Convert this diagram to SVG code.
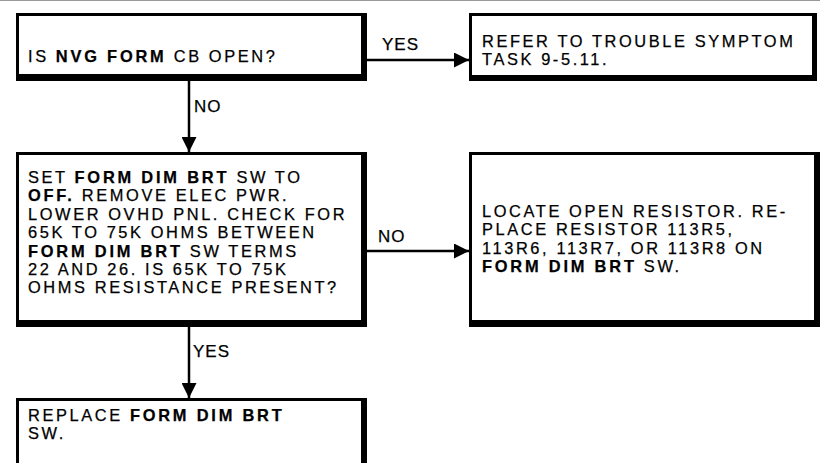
<svg xmlns="http://www.w3.org/2000/svg" width="820" height="463" viewBox="0 0 820 463">
<style>
.frame{fill:#000}
.inner{fill:#fff}
.t{font-family:"Liberation Sans",Arial,sans-serif;font-size:16.4px;letter-spacing:2.6px;fill:#000;stroke:#000;stroke-width:0.25}
.b{font-weight:bold;letter-spacing:2.8px}
.lab{font-family:"Liberation Sans",Arial,sans-serif;font-size:17px;letter-spacing:1px;fill:#000;stroke:#000;stroke-width:0.25}
.con{stroke:#000;stroke-width:2.5;fill:none}
</style>
<defs>
<marker id="ah" viewBox="0 0 15 15" refX="15" refY="7.5" markerWidth="15" markerHeight="15" markerUnits="userSpaceOnUse" orient="auto">
<path d="M0,0 L15,7.5 L0,15 Z" fill="#000"/>
</marker>
</defs>
<rect x="0" y="0" width="820" height="463" fill="#fff"/>
<line x1="0" y1="0.5" x2="820" y2="0.5" stroke="#999" stroke-width="1"/>
<g id="connectors">
<line class="con" x1="367" y1="60" x2="469" y2="60" marker-end="url(#ah)"/>
<line class="con" x1="189" y1="81" x2="189" y2="152" marker-end="url(#ah)"/>
<line class="con" x1="367" y1="251" x2="469" y2="251" marker-end="url(#ah)"/>
<line class="con" x1="189" y1="327" x2="189" y2="398" marker-end="url(#ah)"/>
<text class="lab" x="382" y="50">YES</text>
<text class="lab" x="194" y="112">NO</text>
<text class="lab" x="378" y="242">NO</text>
<text class="lab" x="193" y="357">YES</text>
</g>
<g id="n1">
<rect class="frame" x="16" y="13" width="351" height="68"/>
<rect class="inner" x="19" y="16" width="342" height="58"/>
<text class="t" x="28" y="62">IS <tspan class="b">NVG FORM</tspan> CB OPEN?</text>
</g>
<g id="n2">
<rect class="frame" x="469" y="13" width="348" height="68"/>
<rect class="inner" x="472" y="16" width="340" height="59"/>
<text class="t" x="482" y="47">REFER TO TROUBLE SYMPTOM<tspan x="482" dy="18.4">TASK 9-5.11.</tspan></text>
</g>
<g id="n3">
<rect class="frame" x="16" y="152" width="351" height="175"/>
<rect class="inner" x="19" y="155" width="342" height="165"/>
<text class="t" x="28" y="183">SET <tspan class="b">FORM DIM BRT</tspan> SW TO<tspan x="28" dy="18.4"><tspan class="b">OFF.</tspan> REMOVE ELEC PWR.</tspan><tspan x="28" dy="18.4">LOWER OVHD PNL. CHECK FOR</tspan><tspan x="28" dy="18.4">65K TO 75K OHMS BETWEEN</tspan><tspan x="28" dy="18.4"><tspan class="b">FORM DIM BRT</tspan> SW TERMS</tspan><tspan x="28" dy="18.4">22 AND 26. IS 65K TO 75K</tspan><tspan x="28" dy="18.4">OHMS RESISTANCE PRESENT?</tspan></text>
</g>
<g id="n4">
<rect class="frame" x="469" y="152" width="351" height="175"/>
<rect class="inner" x="472" y="155" width="342" height="165"/>
<text class="t" x="482" y="217">LOCATE OPEN RESISTOR. RE-<tspan x="482" dy="18.4">PLACE RESISTOR 113R5,</tspan><tspan x="482" dy="18.4">113R6, 113R7, OR 113R8 ON</tspan><tspan x="482" dy="18.4"><tspan class="b">FORM DIM BRT</tspan> SW.</tspan></text>
</g>
<g id="n5">
<rect class="frame" x="16" y="398" width="351" height="75"/>
<rect class="inner" x="19" y="401" width="342" height="70"/>
<text class="t" x="28" y="421">REPLACE <tspan class="b">FORM DIM BRT</tspan><tspan x="28" dy="18.4">SW.</tspan></text>
</g>
</svg>
